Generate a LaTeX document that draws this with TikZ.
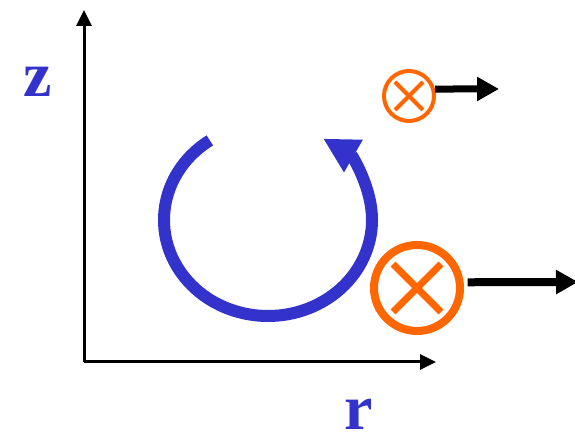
\documentclass[tikz,border=0pt]{standalone}
\usepackage{fontspec}
\setmainfont{Liberation Serif}
\usetikzlibrary{arrows.meta}
\definecolor{loopblue}{HTML}{3333CC}
\definecolor{wireorange}{HTML}{FF6600}
\tikzset{
  axis/.style={line width=3pt, -{Triangle[length=16pt, width=15pt]}},
  axlabel/.style={text=loopblue, font=\fontsize{64}{64}\selectfont\bfseries, inner sep=0pt},
  wire/.style={circle, draw=wireorange, line width=#1, inner sep=0pt},
  push/.style={line width=#1, -{Triangle[length=22pt, width=23pt]}}
}

\begin{document}
\begin{tikzpicture}[x=1pt, y=1pt]
  \useasboundingbox (0,0) rectangle (575,435);
  % axes
  \coordinate (O) at (84,73);
  \coordinate (ztip) at (84,425);
  \coordinate (rtip) at (436,73);
  \draw[axis] (O) -- (ztip);
  \draw[axis] (O) -- (rtip);
  \node[axlabel, anchor=base] (zlab) at (38,338) {z};
  \node[axlabel, anchor=base] (rlab) at (359,5) {r};
  % circulation
  \coordinate (c) at (268,215);
  \draw[loopblue, line width=12pt, -{Triangle[length=35pt, width=35pt]}]
    ([shift={(124:104pt and 96pt)}]c) arc[start angle=124, end angle=418, x radius=104pt, y radius=96pt];
  % wires
  \node[wire=4pt, minimum size=50pt] (small) at (409,339) {};
  \draw[wireorange, line width=4pt] ([shift={(-14,-14)}]small.center) -- ([shift={(14,14)}]small.center);
  \draw[wireorange, line width=4pt] ([shift={(-14,14)}]small.center) -- ([shift={(14,-14)}]small.center);
  \node[wire=8pt, minimum size=86pt] (big) at (417,147) {};
  \draw[wireorange, line width=7pt] ([shift={(-24,-24)}]big.center) -- ([shift={(24,24)}]big.center);
  \draw[wireorange, line width=7pt] ([shift={(-24,24)}]big.center) -- ([shift={(24,-24)}]big.center);
  % forces
  \coordinate (smallend) at (499,346);
  \coordinate (bigend) at (578,153);
  \draw[push=7pt] (small.15) -- (smallend);
  \draw[push=8pt] ([xshift=4pt]big.7) -- (bigend);
\end{tikzpicture}
\end{document}
